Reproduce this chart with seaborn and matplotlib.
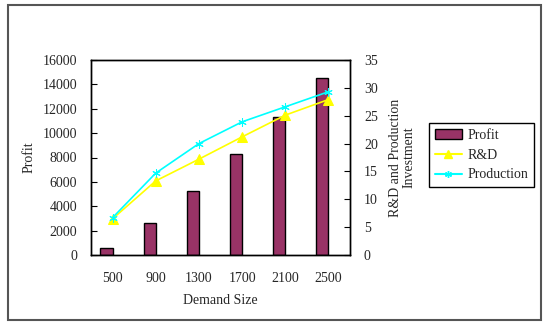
import numpy as np
import pandas as pd
import matplotlib
matplotlib.use("Agg")
import matplotlib.pyplot as plt
from matplotlib.patches import Patch, Rectangle
from matplotlib.lines import Line2D
import seaborn as sns

# data
demand = ['500', '900', '1300', '1700', '2100', '2500']
profit = [600, 2650, 5250, 8250, 11300, 14550]
rd = [6.5, 13.3, 17.2, 21.2, 25.1, 27.9]
production = [6.7, 14.7, 20.0, 23.9, 26.6, 29.3]

sns.set_style('white')
plt.rcParams['font.family'] = ['Liberation Serif', 'DejaVu Serif']
plt.rcParams['font.size'] = 10

bar_color = '#993366'

# profit bars sit on the left half of each slot (second slot left empty)
df = pd.DataFrame({
    'Demand': demand * 2,
    'Value': profit + [np.nan] * len(demand),
    'Series': ['Profit'] * len(demand) + ['blank'] * len(demand),
})

fig = plt.figure(figsize=(5.5, 3.3), dpi=100)
ax = fig.add_axes([91 / 550, 75 / 330, 259 / 550, 195 / 330])

sns.barplot(data=df, x='Demand', y='Value', hue='Series', order=demand,
            palette={'Profit': bar_color, 'blank': 'white'}, width=0.56,
            saturation=1, edgecolor='black', linewidth=1, legend=False, ax=ax)

ax2 = ax.twinx()
pos = np.arange(len(demand))
sns.lineplot(x=pos, y=rd, color='#FFFF00', marker='^', markersize=7,
             markeredgecolor='#FFFF00', linewidth=1.2, ax=ax2)
sns.lineplot(x=pos, y=production, color='#00FFFF', marker=(6, 2, 0),
             markersize=6, markeredgecolor='#00FFFF', linewidth=1.2, ax=ax2)

ax.set_xlim(-0.5, len(demand) - 0.5)
ax.set_ylim(0, 16000)
ax.set_yticks(range(0, 16001, 2000))
ax2.set_ylim(0, 35)
ax2.set_yticks(range(0, 36, 5))

ax.set_xticks(pos)
ax.set_xticklabels(demand)
ax.set_xticks(np.arange(0.5, len(demand) - 0.5), minor=True)
ax.tick_params(axis='x', which='major', length=0, pad=12)
ax.tick_params(axis='x', which='minor', direction='in', length=3, color='black')
ax.tick_params(axis='y', direction='in', length=4, pad=10, left=True, color='black')
ax2.tick_params(axis='y', direction='in', length=4, pad=10, right=True, color='black')

ax.set_xlabel('Demand Size', labelpad=7)
ax.set_ylabel('Profit', labelpad=5)
ax2.set_ylabel('R&D and Production\nInvestment', labelpad=8, linespacing=1.05)

for a in (ax, ax2):
    for sp in a.spines.values():
        sp.set_visible(True)
        sp.set_color('black')
        sp.set_linewidth(1)

handles = [
    Patch(facecolor=bar_color, edgecolor='black', label='Profit'),
    Line2D([], [], color='#FFFF00', marker='^', markersize=6, label='R&D'),
    Line2D([], [], color='#00FFFF', marker=(6, 2, 0), markersize=5, label='Production'),
]
leg = fig.legend(handles=handles, loc='upper left',
                 bbox_to_anchor=(429 / 550, 1 - 123 / 330), borderaxespad=0,
                 fancybox=False, edgecolor='black', framealpha=1,
                 handlelength=2.0, handletextpad=0.35, labelspacing=0.5,
                 borderpad=0.4)
leg.get_frame().set_linewidth(1)

# outer chart-area frame
fig.patches.append(Rectangle((7.5 / 550, 1 - 320 / 330), 533.5 / 550, 315.5 / 330,
                             transform=fig.transFigure, fill=False,
                             edgecolor='#555555', linewidth=1.5))

fig.savefig('out.png', dpi=100)
